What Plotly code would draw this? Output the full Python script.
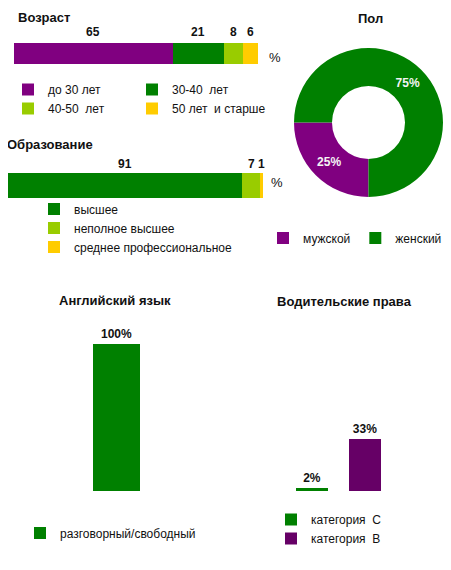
import plotly.graph_objects as go

W, H = 451, 570
OFF = 8  # the page body adds an 8px margin around the plot div
FW, FH = W - OFF, H - OFF
FONT = "Arial, Liberation Sans, sans-serif"

# --- data ---
age_labels = ["до 30 лет", "30-40  лет", "40-50  лет", "50 лет  и старше"]
age_values = [65, 21, 8, 6]
age_colors = ["#800080", "#008000", "#99cc00", "#ffcc00"]

edu_labels = ["высшее", "неполное высшее", "среднее профессиональное"]
edu_values = [91, 7, 1]
edu_colors = ["#008000", "#99cc00", "#ffcc00"]

sex_labels = ["мужской", "женский"]
sex_values = [25, 75]
sex_colors = ["#800080", "#008000"]

eng_labels = ["разговорный/свободный"]
eng_values = [100]
eng_colors = ["#008000"]

drive_labels = ["категория  С", "категория  В"]
drive_values = [2, 33]
drive_colors = ["#008000", "#660066"]


def px(x):
    return (x - OFF) / FW


def py(y):
    return 1 - (y - OFF) / FH


fig = go.Figure()

# Возраст - stacked horizontal bar
for i, (lab, val, col) in enumerate(zip(age_labels, age_values, age_colors)):
    fig.add_trace(go.Bar(y=["age"], x=[val], orientation="h", name=lab,
                         marker=dict(color=col, line_width=0), width=1,
                         xaxis="x", yaxis="y", textposition="none",
                         legend="legend" if i % 2 == 0 else "legend2"))

# Образование
for lab, val, col in zip(edu_labels, edu_values, edu_colors):
    fig.add_trace(go.Bar(y=["edu"], x=[val], orientation="h", name=lab,
                         marker=dict(color=col, line_width=0), width=1,
                         xaxis="x2", yaxis="y2", textposition="none",
                         legend="legend3"))

# Пол - donut
fig.add_trace(go.Pie(labels=sex_labels, values=sex_values, hole=0.49,
                     marker=dict(colors=sex_colors, line_width=0),
                     sort=False, direction="counterclockwise", rotation=180,
                     textinfo="percent", textposition="inside",
                     insidetextorientation="horizontal",
                     textfont=dict(family=FONT, size=12, color="#f4f4f4", weight="bold"),
                     domain=dict(x=[px(294), px(443)], y=[py(197), py(48)]),
                     legend="legend4"))

# Английский язык
for lab, val, col in zip(eng_labels, eng_values, eng_colors):
    fig.add_trace(go.Bar(x=[lab], y=[val], name=lab, width=1,
                         marker=dict(color=col, line_width=0),
                         texttemplate="%{y}%", textposition="outside", cliponaxis=False,
                         textfont=dict(family=FONT, size=12, color="#111", weight="bold"),
                         xaxis="x3", yaxis="y3", legend="legend5"))

# Водительские права
for lab, val, col in zip(drive_labels, drive_values, drive_colors):
    fig.add_trace(go.Bar(x=[lab], y=[val], name=lab, width=0.6,
                         marker=dict(color=col, line_width=0),
                         texttemplate="%{y}%", textposition="outside", cliponaxis=False,
                         textfont=dict(family=FONT, size=12, color="#111", weight="bold"),
                         xaxis="x4", yaxis="y4", legend="legend6"))

annotations = []


def stack_labels(values, xref, yref, yshift):
    cum = 0
    for v in values:
        annotations.append(dict(x=cum + v / 2, y=0.5, xref=xref, yref=yref,
                                text=f"<b>{v}</b>", showarrow=False,
                                yanchor="bottom", yshift=yshift,
                                font=dict(family=FONT, size=12, color="#111")))
        cum += v


stack_labels(age_values, "x", "y", 2)
stack_labels(edu_values, "x2", "y2", 0)


def title(text, x, y, anchor="left"):
    annotations.append(dict(x=px(x), y=py(y), xref="paper", yref="paper",
                            text=f"<b>{text}</b>", showarrow=False,
                            xanchor=anchor, yanchor="middle",
                            font=dict(family=FONT, size=13, color="#111")))


title("Возраст", 16, 17)
title("Образование", 5, 144)
title("Пол", 370, 18)
annotations[-1]["xanchor"] = "center"
title("Английский язык", 115, 300, "center")
title("Водительские права", 344, 301, "center")

for x, y in [(267, 57), (269, 182)]:
    annotations.append(dict(x=px(x), y=py(y), xref="paper", yref="paper", text="%",
                            showarrow=False, xanchor="left", yanchor="middle",
                            font=dict(family=FONT, size=13, color="#111")))

hidden = dict(visible=False, fixedrange=True)
leg = dict(font=dict(family=FONT, size=12, color="#111"), bgcolor="rgba(0,0,0,0)",
           traceorder="normal", itemclick=False, itemdoubleclick=False,
           xanchor="left", yanchor="middle")

fig.update_layout(
    width=FW, height=FH, margin=dict(l=0, r=0, t=0, b=0),
    paper_bgcolor="white", plot_bgcolor="white",
    barmode="stack", bargap=0,
    xaxis=dict(domain=[px(14), px(258)], range=[0, 100], **hidden),
    yaxis=dict(domain=[py(64), py(43)], range=[-0.5, 0.5], **hidden),
    xaxis2=dict(domain=[px(8), px(263)], range=[0, 99], **hidden),
    yaxis2=dict(domain=[py(198), py(173)], range=[-0.5, 0.5], **hidden),
    xaxis3=dict(domain=[px(93), px(140)], range=[-0.5, 0.5], **hidden),
    yaxis3=dict(domain=[py(491), py(344)], range=[0, 100], **hidden),
    xaxis4=dict(domain=[px(285), px(392)], range=[-0.5, 1.5], **hidden),
    yaxis4=dict(domain=[py(491), py(428)], range=[0, 40], **hidden),
    legend=dict(x=px(8), y=py(99), **leg),
    legend2=dict(x=px(132), y=py(99), **leg),
    legend3=dict(x=px(34), y=py(228), **leg),
    legend4=dict(x=px(263), y=py(238), orientation="h", **leg),
    legend5=dict(x=px(20), y=py(533), **leg),
    legend6=dict(x=px(271), y=py(529), **leg),
    annotations=annotations,
    showlegend=True,
)

fig.write_html("out.html")
